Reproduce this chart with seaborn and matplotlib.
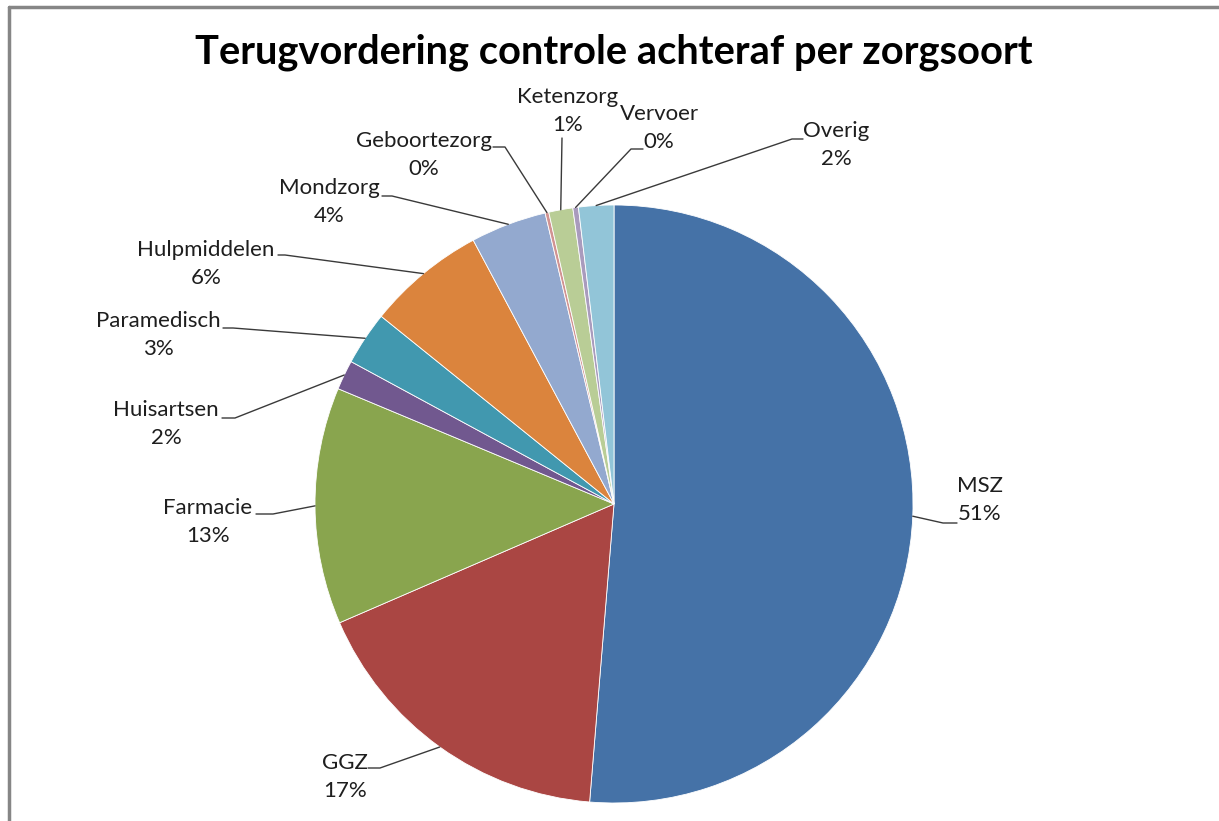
import numpy as np
import matplotlib.pyplot as plt
import seaborn as sns

# slices, clockwise from 12 o'clock
categories = ['MSZ', 'GGZ', 'Farmacie', 'Huisartsen', 'Paramedisch', 'Hulpmiddelen',
              'Mondzorg', 'Geboortezorg', 'Ketenzorg', 'Vervoer', 'Overig']
shares = [51.3, 17.2, 12.8, 1.6, 2.9, 6.4, 4.1, 0.2, 1.3, 0.3, 1.9]
colors = ['#4572A7', '#AA4643', '#89A54E', '#71588F', '#4198AF', '#DB843D',
          '#93A9CF', '#D19392', '#B9CD96', '#A99BBD', '#92C5D8']

# label layout in pixels (y down): text centre, leader end next to text, elbow x
label_pos = {
    'MSZ': (980, 500, 957, 523, 943),
    'GGZ': (345, 777, 368, 768, 380),
    'Farmacie': (208, 522, 256, 514, 273),
    'Huisartsen': (166, 424, 222, 418, 235),
    'Paramedisch': (158, 335, 223, 328, 233),
    'Hulpmiddelen': (206, 264, 278, 255, 285),
    'Mondzorg': (329, 202, 382, 196, 392),
    'Geboortezorg': (424, 155, 493, 147, 505),
    'Ketenzorg': (568, 111, 562, 138, 562),
    'Vervoer': (659, 128, 643, 149, 631),
    'Overig': (836, 145, 803, 139, 792),
}

W, H = 1219, 821
CX, CY, R = 614, H - 504, 299

sns.set_theme(style='white')
plt.rcParams['font.family'] = ['Lato', 'DejaVu Sans']

fig = plt.figure(figsize=(W / 100, H / 100), dpi=100)
ax = fig.add_axes([0, 0, 1, 1])

wedges, _ = ax.pie(shares, colors=colors, startangle=90, counterclock=False,
                   center=(CX, CY), radius=R,
                   wedgeprops=dict(edgecolor='white', linewidth=0.6))
ax.set_xlim(0, W)
ax.set_ylim(0, H)
ax.axis('off')

total = sum(shares)
for w, name, val in zip(wedges, categories, shares):
    mid = np.deg2rad((w.theta1 + w.theta2) / 2)
    ax_x, ax_y = CX + R * np.cos(mid), CY + R * np.sin(mid)
    tx, ty, ex, ey, bx = label_pos[name]
    ax.plot([ex, bx, ax_x], [H - ey, H - ey, ax_y], color='#3a3a3a', lw=1)
    ax.text(tx, H - ty, f"{name}\n{round(val / total * 100)}%", ha='center', va='center',
            fontsize=16, linespacing=1.55, color='#1e1e1e')

ax.text(614, H - 52, 'Terugvordering controle achteraf per zorgsoort',
        ha='center', va='center', fontsize=28.7, fontweight='bold', color='black')

# chart frame (only top and left edges visible)
ax.plot([9, 9], [0, H - 7], color='#868686', lw=2.5, clip_on=False)
ax.plot([9, W], [H - 7, H - 7], color='#868686', lw=2.5, clip_on=False)

fig.savefig('out.png', dpi=100)
